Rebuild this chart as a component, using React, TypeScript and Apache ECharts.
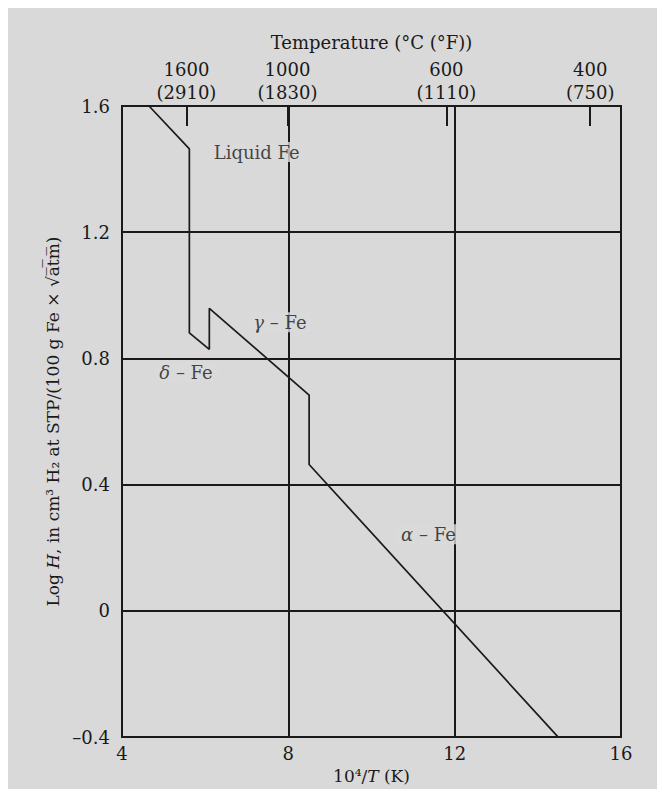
import React, { useEffect, useRef } from "react";
import * as echarts from "echarts";

// Axis ticks
const xTicks = [4, 8, 12, 16];
const yTicks = [-0.4, 0, 0.4, 0.8, 1.2, 1.6];
// Top temperature scale (positions in 10^4/T units)
const tempPositions = [5.55, 7.98, 11.8, 15.26];
const tempC = ["1600", "1000", "600", "400"];
const tempF = ["2910", "1830", "1110", "750"];
// Solubility curve
const curveX = [4.65, 5.62, 5.62, 6.1, 6.1, 8.5, 8.5, 14.49];
const curveY = [1.6, 1.464, 0.881, 0.829, 0.959, 0.684, 0.464, -0.4];
// Phase labels
const phaseLabels = ["Liquid Fe", "{g|γ} – Fe", "{g|δ} – Fe", "{g|α} – Fe"];
const phaseX = [7.24, 7.8, 5.54, 11.37];
const phaseY = [1.454, 0.915, 0.755, 0.243];

const FONT = "DejaVu Serif";
const INK = "#1a1a1a";
const BG = "#d9d9d9";
const FS = 18;

export default function App() {
  const ref = useRef<HTMLDivElement>(null);
  useEffect(() => {
    if (!ref.current) return;
    const chart = echarts.init(ref.current, undefined, { renderer: "svg" });
    const fmtY = (v: number) => {
      if (Math.abs(v) < 1e-9) return "0";
      const s = Math.abs(v).toFixed(1);
      return v < 0 ? "–" + s : s;
    };
    const nearestTemp = (v: number) => {
      let best = 0;
      tempPositions.forEach((p, i) => {
        if (Math.abs(p - v) < Math.abs(tempPositions[best] - v)) best = i;
      });
      return best;
    };
    const textBase = { fontFamily: FONT, color: INK };
    chart.setOption({
      animation: false,
      backgroundColor: BG,
      grid: {
        left: 114,
        top: 98,
        right: 44,
        bottom: 51,
        show: true,
        borderColor: INK,
        borderWidth: 2,
        backgroundColor: "transparent",
      },
      xAxis: [
        {
          type: "value",
          position: "bottom",
          min: xTicks[0],
          max: xTicks[xTicks.length - 1],
          interval: 4,
          axisLine: { show: true, lineStyle: { color: INK, width: 2 } },
          axisTick: { show: false },
          axisLabel: { ...textBase, fontSize: FS, margin: 7 },
          splitLine: { show: true, lineStyle: { color: INK, width: 2 } },
          name: "10⁴/{i|T} (K)",
          nameLocation: "middle",
          nameGap: 29,
          nameTextStyle: {
            ...textBase,
            fontSize: 17,
            rich: { i: { ...textBase, fontSize: 17, fontStyle: "italic" } },
          },
        },
        {
          type: "value",
          position: "top",
          min: xTicks[0],
          max: xTicks[xTicks.length - 1],
          axisLine: { show: true, lineStyle: { color: INK, width: 2 } },
          axisTick: {
            show: true,
            inside: true,
            length: 20,
            lineStyle: { color: INK, width: 2 },
            customValues: tempPositions,
          },
          axisLabel: {
            ...textBase,
            fontSize: FS,
            margin: 2,
            lineHeight: 23,
            customValues: tempPositions,
            formatter: (v: number) => {
              const i = nearestTemp(v);
              return tempC[i] + "\n(" + tempF[i] + ")";
            },
          },
          splitLine: { show: false },
          name: "Temperature (°C (°F))",
          nameLocation: "middle",
          nameGap: 55,
          nameTextStyle: { ...textBase, fontSize: FS },
        },
      ],
      yAxis: {
        type: "value",
        min: yTicks[0],
        max: yTicks[yTicks.length - 1],
        interval: 0.4,
        axisLine: { show: true, lineStyle: { color: INK, width: 2 } },
        axisTick: { show: false },
        axisLabel: { ...textBase, fontSize: FS, margin: 12, formatter: fmtY },
        splitLine: { show: true, lineStyle: { color: INK, width: 2 } },
        name: "Log {i|H}, in cm³ H₂ at STP/(100 g Fe × √a̅t̅m̅)",
        nameLocation: "middle",
        nameRotate: 90,
        nameGap: 51,
        nameTextStyle: {
          ...textBase,
          fontSize: 17,
          rich: { i: { ...textBase, fontSize: 17, fontStyle: "italic" } },
        },
      },
      series: [
        {
          type: "line",
          xAxisIndex: 0,
          data: curveX.map((x, i) => [x, curveY[i]]),
          showSymbol: false,
          symbol: "none",
          lineStyle: { color: INK, width: 1.7 },
          z: 3,
        },
        {
          type: "scatter",
          xAxisIndex: 0,
          symbolSize: 1,
          itemStyle: { color: "transparent" },
          data: phaseX.map((x, i) => ({ value: [x, phaseY[i]], name: phaseLabels[i] })),
          label: {
            show: true,
            position: "inside",
            ...textBase,
            fontSize: FS,
            backgroundColor: BG,
            padding: [1, 5],
            formatter: (p: any) => phaseLabels[p.dataIndex],
            rich: { g: { ...textBase, fontSize: FS, fontStyle: "italic" } },
          },
          z: 5,
        },
      ],
    });
    return () => chart.dispose();
  }, []);
  return <div ref={ref} style={{ width: 657, height: 781 }} />;
}
